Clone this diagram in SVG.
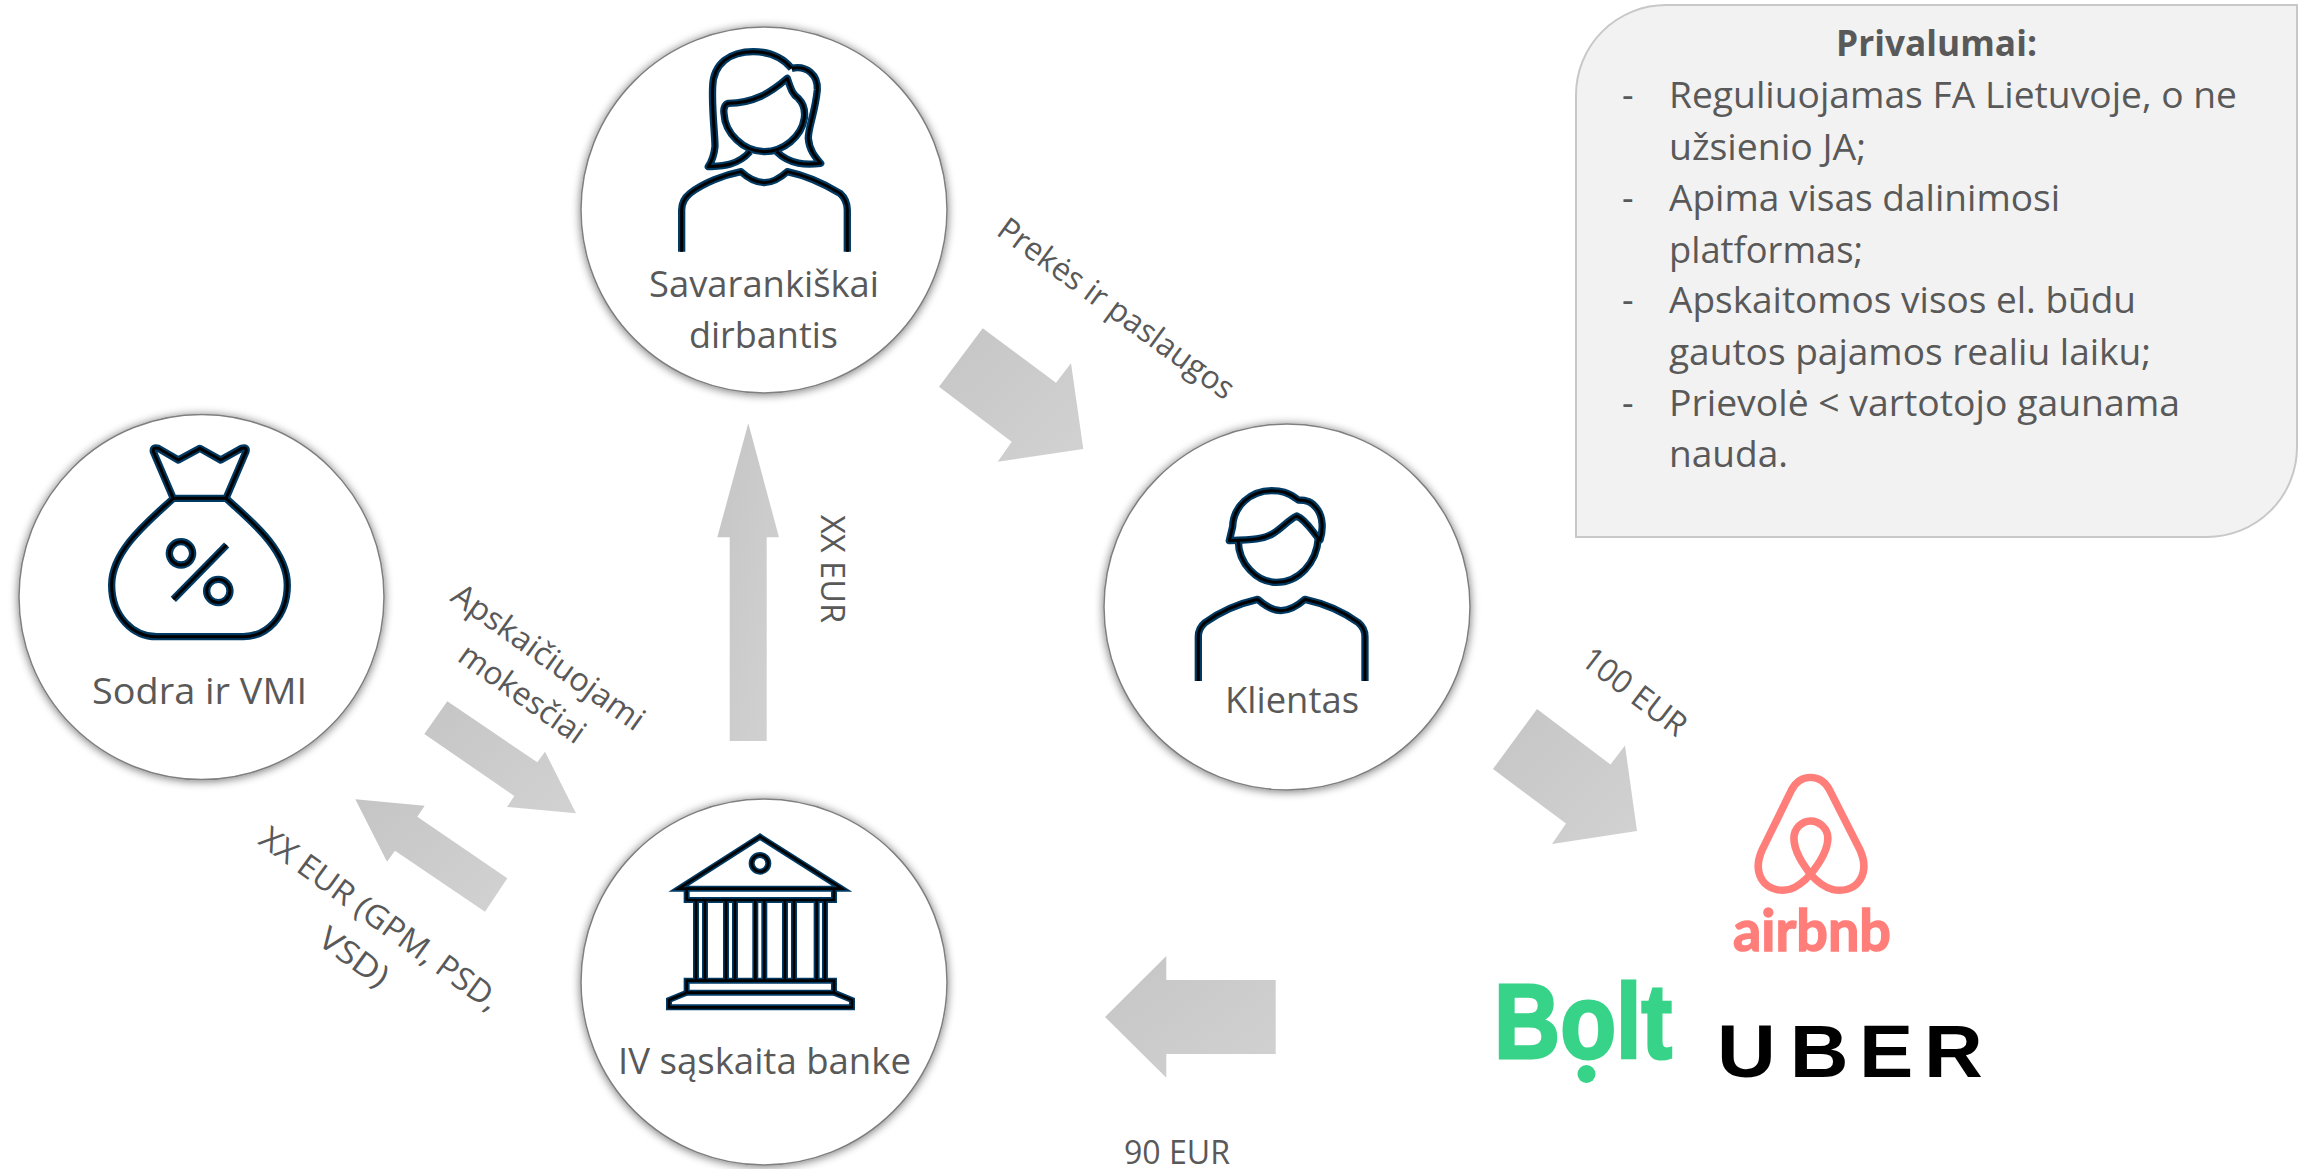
<svg xmlns="http://www.w3.org/2000/svg" xmlns:xlink="http://www.w3.org/1999/xlink" width="2308" height="1169" viewBox="0 0 2308 1169">
<style>
text{font-family:"Open Sans","Noto Sans",sans-serif;fill:#595959}
.l{font-size:36px}
.m{font-size:32px}
.c{fill:#fff;stroke:#7f7f7f;stroke-width:1.5;filter:url(#sh)}
.a{fill:url(#g)}
.i1{fill:none;stroke:#003a63;stroke-width:22;stroke-linejoin:round}
.i2{fill:none;stroke:#000;stroke-width:9;stroke-linejoin:round}
.ib1{fill:none;stroke:#003a63;stroke-width:18;stroke-linejoin:miter}
.ib2{fill:none;stroke:#000;stroke-width:8;stroke-linejoin:miter}
</style>
<defs>
<linearGradient id="g" x1="0" y1="0" x2="1" y2="1"><stop offset="0" stop-color="#c5c5c5"/><stop offset="1" stop-color="#d2d2d2"/></linearGradient>
<filter id="sh" x="-10%" y="-10%" width="120%" height="120%"><feGaussianBlur in="SourceAlpha" stdDeviation="5"/><feOffset dx="0" dy="1"/><feComponentTransfer><feFuncA type="linear" slope="0.55"/></feComponentTransfer><feMerge><feMergeNode/><feMergeNode in="SourceGraphic"/></feMerge></filter>
<g id="woman">
<path d="M365,755V630Q365,600 390,580C430,550 490,525 543,515C570,540 590,548 613,548C640,548 660,535 682,515C730,525 790,550 840,580Q862,600 862,630V755"/>
<path d="M505,310C580,310 630,280 682,235C695,275 700,285 715,295C735,315 735,340 733,355C725,410 670,455 613,455C550,455 495,400 492,340C490,325 495,312 505,310Z"/>
<path d="M695,205C670,175 630,155 580,155C510,155 460,190 458,260C455,330 465,400 465,440C462,470 455,485 445,500C480,498 530,500 570,455"/>
<path d="M695,205C740,195 775,225 772,270C765,340 745,380 745,415C748,450 765,470 782,490C740,495 690,495 650,455"/>
</g>
<g id="man">
<path d="M325,783V650Q325,625 345,608C390,575 450,550 503,538C530,562 550,572 573,572C600,572 620,560 645,538C700,550 760,575 805,608Q825,625 825,650V783"/>
<path d="M418,362C490,360 520,358 550,340C575,325 595,300 620,288C650,300 670,340 690,360C700,330 700,290 680,265C665,245 650,240 625,240C595,215 570,212 545,212C480,212 430,260 428,320Z"/>
<path d="M445,362C445,430 500,487 560,487C625,487 680,430 685,355"/>
</g>
<g id="bag">
<path d="M520,295L460,155Q458,140 475,145L535,180L600,145L662,180L725,145Q742,140 738,155L678,295Z"/>
<path d="M520,295C450,360 335,450 335,555C335,650 400,710 470,710H730C800,710 862,650 862,555C862,450 750,360 678,295"/>
<circle cx="543" cy="460" r="35"/><circle cx="655" cy="573" r="35"/>
<path d="M520,598L680,435"/>
</g>
<g id="bank">
<path d="M570,110L326,266H816Z"/><circle cx="570" cy="190" r="25"/>
<path d="M350,266V300H792V266"/>
<path d="M378,300V542M405,300V542M468,300V542M495,300V542M556,300V542M583,300V542M645,300V542M672,300V542M740,300V542M765,300V542"/>
<path d="M350,542H792V578H350Z"/>
<path d="M350,578L297,600V622H846V600L792,578"/>
</g>
</defs>
<rect width="2308" height="1169" fill="#fff"/>

<g id="connectors">
<polygon class="a" points="982.7,328.3 1056,382.7 1071,363.3 1083.3,449 997.7,461.7 1011.7,441.7 939,386.7"/>
<polygon class="a" points="748.3,423.3 779,537.3 766.7,537.3 766.7,741 729.7,741 729.7,537.3 717.3,537.3"/>
<polygon class="a" points="1537,709 1610.5,764.5 1625,745.5 1637,831 1552,844 1566,823.5 1493,769"/>
<polygon class="a" points="1105,1017 1166.3,956 1166.3,980 1275.7,980 1275.7,1054 1166.3,1054 1166.3,1077.7"/>
<polygon class="a" points="447.3,701.3 537.3,762.3 545,751.7 576,813.3 507,807 514.3,796 424.3,734"/>
<polygon class="a" points="355.3,799.3 424.7,805.7 417.3,816.7 507.3,878.3 485,911.7 395,850.7 387,861.7"/>
<text class="m" transform="translate(995,234) rotate(36)" textLength="284" lengthAdjust="spacingAndGlyphs">Prekės ir paslaugos</text>
<text class="m" transform="translate(821,515) rotate(90)" textLength="108" lengthAdjust="spacingAndGlyphs">XX EUR</text>
<text class="m" transform="translate(1579,663) rotate(37.5)" textLength="123" lengthAdjust="spacingAndGlyphs">100 EUR</text>
<text class="m" x="1124" y="1164" textLength="106" lengthAdjust="spacingAndGlyphs">90 EUR</text>
<text class="m" transform="translate(449,600) rotate(35.4)" textLength="228" lengthAdjust="spacingAndGlyphs">Apskaičiuojami</text>
<text class="m" transform="translate(456,660) rotate(35.4)" textLength="147" lengthAdjust="spacingAndGlyphs">mokesčiai</text>
<text class="m" transform="translate(257,843) rotate(36)" textLength="288" lengthAdjust="spacingAndGlyphs">XX EUR (GPM, PSD,</text>
<text class="m" transform="translate(316,943) rotate(36)" textLength="78" lengthAdjust="spacingAndGlyphs">VSD)</text>
</g>

<g id="node-savarankiskai">
<circle class="c" cx="764" cy="210" r="183"/>
<g transform="translate(560,0) scale(.3333)"><use xlink:href="#woman" href="#woman" class="i1"/><use xlink:href="#woman" href="#woman" class="i2"/></g>
<text class="l" x="649" y="297" textLength="230" lengthAdjust="spacingAndGlyphs">Savarankiškai</text>
<text class="l" x="689" y="348" textLength="149" lengthAdjust="spacingAndGlyphs">dirbantis</text>
</g>
<g id="node-sodra">
<circle class="c" cx="201.500" cy="597" r="182.500"/>
<g transform="translate(0,400) scale(.3333)"><use xlink:href="#bag" href="#bag" class="i1"/><use xlink:href="#bag" href="#bag" class="i2"/></g>
<text class="l" x="92" y="704" textLength="215" lengthAdjust="spacingAndGlyphs">Sodra ir VMI</text>
</g>
<g id="node-klientas">
<circle class="c" cx="1287" cy="607" r="183"/>
<g transform="translate(1090,420) scale(.3333)"><use xlink:href="#man" href="#man" class="i1"/><use xlink:href="#man" href="#man" class="i2"/></g>
<text class="l" x="1225" y="713" textLength="134" lengthAdjust="spacingAndGlyphs">Klientas</text>
</g>
<g id="node-bankas">
<circle class="c" cx="764" cy="982" r="183"/>
<g transform="translate(570,800) scale(.3333)"><use xlink:href="#bank" href="#bank" class="ib1"/><use xlink:href="#bank" href="#bank" class="ib2"/></g>
<text class="l" x="618" y="1074" textLength="293" lengthAdjust="spacingAndGlyphs">IV sąskaita banke</text>
</g>

<g id="node-airbnb">
<g transform="translate(1468,740) scale(.346,.3333)" fill="none" stroke="#ff7e7a" stroke-width="22">
<path d="M990,112C960,112 945,130 935,150L850,330C835,365 835,395 850,420C870,450 905,455 930,448C955,440 975,420 990,403C1005,420 1025,440 1052,448C1080,455 1115,450 1133,420C1148,395 1148,365 1133,330L1045,150C1035,130 1020,112 990,112Z"/>
<path d="M990,403C970,375 942,335 942,295C942,265 965,243 990,243C1015,243 1040,265 1040,295C1040,335 1012,375 990,403"/>
</g>
<text x="1733" y="951" style="font-family:Lato,'Open Sans',sans-serif;font-size:58px;font-weight:700;fill:#ff7e7a;stroke:#ff7e7a;stroke-width:1.5" textLength="158" lengthAdjust="spacingAndGlyphs">airbnb</text>
</g>
<g id="node-bolt">
<text x="1494" y="1058" style="font-family:'Liberation Sans',sans-serif;font-size:105px;font-weight:700;fill:#37d388;stroke:#37d388;stroke-width:3" textLength="178" lengthAdjust="spacingAndGlyphs">Bolt</text>
<circle cx="1586.5" cy="1074" r="9" fill="#37d388"/>
</g>
<g id="node-uber">
<text transform="translate(1716,1077) scale(1.1,1)" x="1 67 130 189" y="0" style="font-family:'Liberation Sans',sans-serif;font-size:74px;font-weight:700;fill:#000">UBER</text>
</g>

<g id="node-privalumai">
<path d="M1576,95A90,90 0 0 1 1666,5H2297V447A90,90 0 0 1 2207,537H1576Z" fill="#f2f2f2" stroke="#c8c8c8" stroke-width="2"/>
<text class="l" x="1836" y="56" font-weight="700" textLength="201" lengthAdjust="spacingAndGlyphs">Privalumai:</text>
<g class="l">
<text class="l" x="1622" y="108">-</text><text class="l" x="1669" y="108" textLength="568" lengthAdjust="spacingAndGlyphs">Reguliuojamas FA Lietuvoje, o ne</text>
<text class="l" x="1669" y="160" textLength="197" lengthAdjust="spacingAndGlyphs">užsienio JA;</text>
<text class="l" x="1622" y="211">-</text><text class="l" x="1669" y="211" textLength="391" lengthAdjust="spacingAndGlyphs">Apima visas dalinimosi</text>
<text class="l" x="1669" y="263" textLength="194" lengthAdjust="spacingAndGlyphs">platformas;</text>
<text class="l" x="1622" y="313">-</text><text class="l" x="1669" y="313" textLength="467" lengthAdjust="spacingAndGlyphs">Apskaitomos visos el. būdu</text>
<text class="l" x="1669" y="365" textLength="482" lengthAdjust="spacingAndGlyphs">gautos pajamos realiu laiku;</text>
<text class="l" x="1622" y="416">-</text><text class="l" x="1669" y="416" textLength="511" lengthAdjust="spacingAndGlyphs">Prievolė &lt; vartotojo gaunama</text>
<text class="l" x="1669" y="467" textLength="119" lengthAdjust="spacingAndGlyphs">nauda.</text>
</g>
</g>
</svg>
